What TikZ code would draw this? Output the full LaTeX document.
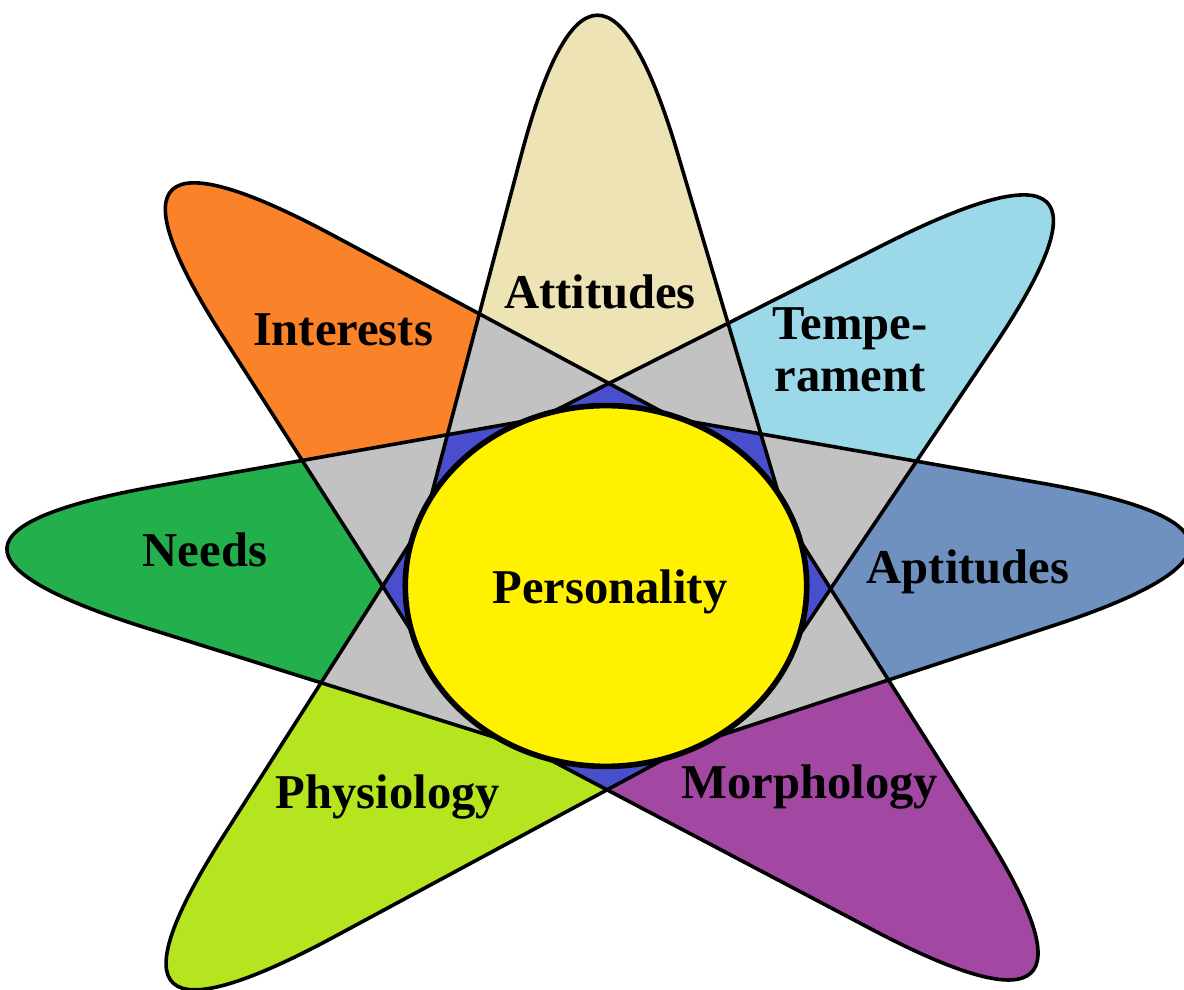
\documentclass[tikz,border=0pt]{standalone}
\usepackage{fontspec}
\setmainfont{Liberation Serif}
\usetikzlibrary{calc}

\definecolor{attcol}{RGB}{237,227,180}
\definecolor{temcol}{RGB}{155,217,233}
\definecolor{aptcol}{RGB}{110,145,192}
\definecolor{morcol}{RGB}{162,72,162}
\definecolor{phycol}{RGB}{181,229,30}
\definecolor{neecol}{RGB}{35,176,76}
\definecolor{intcol}{RGB}{250,130,40}
\definecolor{lapgray}{RGB}{194,194,194}
\definecolor{lapblue}{RGB}{72,78,204}
\definecolor{coreyellow}{RGB}{255,241,0}

% petal: sides tangent to the unit circle, #1 direction, #2 distance of its apex
\newcommand{\petalpath}[2]{({#1-acos(1/#2)}:1)
  -- ($(#1:#2)!0.42!({#1-acos(1/#2)}:1)$)
  .. controls ($(#1:#2)!0.14!({#1-acos(1/#2)}:1)$) and ($(#1:#2)!0.14!({#1+acos(1/#2)}:1)$)
  .. ($(#1:#2)!0.42!({#1+acos(1/#2)}:1)$) -- ({#1+acos(1/#2)}:1) -- cycle}

\begin{document}
\begin{tikzpicture}[x=0.5pt,y=0.5pt,
  edge/.style={draw=black,line width=1.8pt},
  word/.style={font=\fontsize{24.3}{26}\selectfont\bfseries,align=center}]
  \useasboundingbox (-606,-404) rectangle (578,586);
  \begin{scope}[xscale=193,yscale=176]
    \foreach \ang/\apex/\col in {90.8/4.04/attcol,43.7/3.93/temcol,4.5/3.77/aptcol,-45/3.87/morcol,
      -134.8/3.96/phycol,176/3.87/neecol,134.9/3.96/intcol}
      \fill[\col] \petalpath{\ang}{\apex};
    % neighbours overlap in grey
    \foreach \a/\ra/\b/\rb in {90.8/4.04/43.7/3.93,43.7/3.93/4.5/3.77,4.5/3.77/-45/3.87,
      -134.8/3.96/176/3.87,176/3.87/134.9/3.96,134.9/3.96/90.8/4.04}
    {
      \begin{scope}
        \clip \petalpath{\a}{\ra};
        \fill[lapgray] \petalpath{\b}{\rb};
      \end{scope}
    }
    % petals two steps apart overlap in blue
    \foreach \a/\ra/\b/\rb in {90.8/4.04/4.5/3.77,43.7/3.93/-45/3.87,-45/3.87/-134.8/3.96,
      -134.8/3.96/134.9/3.96,176/3.87/90.8/4.04,134.9/3.96/43.7/3.93}
    {
      \begin{scope}
        \clip \petalpath{\a}{\ra};
        \fill[lapblue] \petalpath{\b}{\rb};
      \end{scope}
    }
    \foreach \ang/\apex in {90.8/4.04,43.7/3.93,4.5/3.77,-45/3.87,-134.8/3.96,176/3.87,134.9/3.96}
      \draw[edge] \petalpath{\ang}{\apex};
    \draw[line width=2.8pt,fill=coreyellow] (0,0) ellipse [x radius=1.04,y radius=1.025];
  \end{scope}

  \node[word] (personality) at (4,-6) {Personality};
  \node[word] (attitudes) at (-6,294) {Attitudes};
  \node[word] (temperament) at (244,236) {Tempe-\\rament};
  \node[word] (aptitudes) at (362,14) {Aptitudes};
  \node[word] (morphology) at (204,-201) {Morphology};
  \node[word] (physiology) at (-218,-211) {Physiology};
  \node[word] (needs) at (-401,36) {Needs};
  \node[word] (interests) at (-263,256) {Interests};
\end{tikzpicture}
\end{document}
